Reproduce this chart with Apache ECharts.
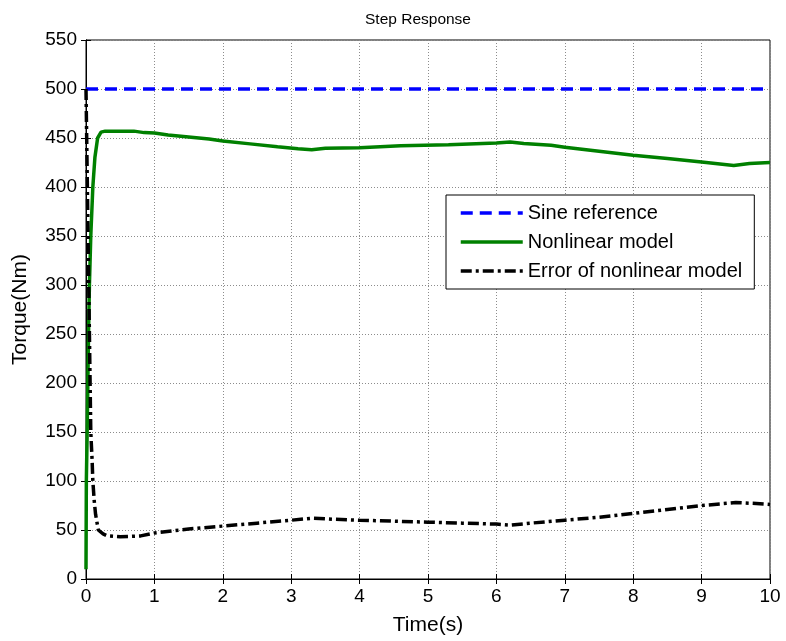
<!DOCTYPE html>
<html>
<head>
<meta charset="utf-8">
<script src="https://cdn.jsdelivr.net/npm/echarts@6/dist/echarts.min.js"></script>
<style>
html,body{margin:0;padding:0;background:#fff;}
#chart{width:786px;height:641px;}
</style>
</head>
<body>
<div id="chart"></div>
<script>
// ---- data ----
var titleText = 'Step Response';
var xName = 'Time(s)';
var yName = 'Torque(Nm)';
var seriesNames = ['Sine reference', 'Nonlinear model', 'Error of nonlinear model'];

var refTime = [0, 10];
var refValues = [500, 500];

var nlTime = [0, 0.005, 0.017, 0.027, 0.037, 0.05, 0.07, 0.1, 0.13, 0.17, 0.22, 0.28, 0.5, 0.7, 0.85, 1, 1.2, 1.5, 1.8, 2, 2.4, 2.8, 3.1, 3.3, 3.5, 4, 4.6, 5.3, 6, 6.2, 6.4, 6.8, 7, 7.5, 8, 8.5, 9, 9.47, 9.7, 10];
var nlValues = [10, 100, 150, 200, 250, 300, 350, 400, 430, 450, 456, 457, 457, 457, 455.5, 455, 453, 451, 449, 447, 444, 441, 439, 438, 439.5, 440, 442, 443, 445, 446, 444.5, 442.5, 440.5, 436.5, 432.5, 429, 425.5, 422, 424, 425];

var errTime = [0, 0.01, 0.02, 0.03, 0.04, 0.05, 0.06, 0.07, 0.09, 0.1, 0.12, 0.14, 0.18, 0.25, 0.31, 0.5, 0.8, 1, 1.5, 2, 2.5, 3, 3.3, 3.6, 4, 4.5, 5, 5.5, 6, 6.2, 6.5, 7, 7.5, 8, 8.5, 9, 9.5, 9.8, 10];
var errValues = [500, 450, 400, 350, 300, 250, 200, 150, 120, 100, 80, 66, 50, 46, 44, 43, 44, 47, 51, 54, 57, 60, 62, 61, 60, 59, 58, 57, 56, 55, 57, 60, 63, 67, 71, 75, 78, 77, 76];

var xMin = 0, xMax = 10, xStep = 1;
var yMin = 0, yMax = 550, yStep = 50;

function pairs(t, v) { return t.map(function (x, i) { return [x, v[i]]; }); }

var FONT = 'Liberation Sans, Arial, sans-serif';
var chart = echarts.init(document.getElementById('chart'));

var gridLine = { show: true, lineStyle: { color: '#8c8c8c', type: [1, 2], width: 1 } };

chart.setOption({
  animation: false,
  backgroundColor: '#fff',
  title: {
    text: titleText, left: 360, top: 7,
    textStyle: { fontFamily: FONT, fontSize: 15.5, fontWeight: 'normal', color: '#000' }
  },
  grid: { left: 86, right: 16, top: 40, bottom: 59, show: true, borderColor: '#000', borderWidth: 1, backgroundColor: '#fff' },
  legend: {
    orient: 'vertical', left: 446, top: 195,
    padding: [8, 12, 8, 13],
    itemWidth: 62, itemHeight: 14, itemGap: 9, itemTextGap: 8,
    backgroundColor: '#fff', borderColor: '#000', borderWidth: 1, borderRadius: 0,
    itemStyle: { color: 'rgba(0,0,0,0)', borderWidth: 0, opacity: 0 },
    lineStyle: { width: 3.5 },
    textStyle: { fontFamily: FONT, fontSize: 20, color: '#000', lineHeight: 20 },
    data: seriesNames
  },
  xAxis: [{
    type: 'value', min: xMin, max: xMax, interval: xStep, position: 'bottom',
    name: xName, nameLocation: 'middle', nameGap: 36,
    nameTextStyle: { fontFamily: FONT, fontSize: 21, color: '#000' },
    axisLine: { show: true, lineStyle: { color: '#000', width: 1 } },
    axisTick: { show: true, inside: true, length: 5, lineStyle: { color: '#000' } },
    axisLabel: { fontFamily: FONT, fontSize: 19, color: '#000', margin: 8 },
    splitLine: gridLine
  }, {
    type: 'value', min: xMin, max: xMax, interval: xStep, position: 'top',
    axisLine: { show: true, lineStyle: { color: '#000', width: 1 } },
    axisTick: { show: true, inside: true, length: 5, lineStyle: { color: '#000' } },
    axisLabel: { show: false }, splitLine: { show: false }
  }],
  yAxis: [{
    type: 'value', min: yMin, max: yMax, interval: yStep, position: 'left',
    name: yName, nameLocation: 'middle', nameGap: 55,
    nameTextStyle: { fontFamily: FONT, fontSize: 21, color: '#000' },
    axisLine: { show: true, lineStyle: { color: '#000', width: 1 } },
    axisTick: { show: true, inside: true, length: 5, lineStyle: { color: '#000' } },
    axisLabel: { fontFamily: FONT, fontSize: 19, color: '#000', margin: 9 },
    splitLine: gridLine
  }, {
    type: 'value', min: yMin, max: yMax, interval: yStep, position: 'right',
    axisLine: { show: true, lineStyle: { color: '#000', width: 1 } },
    axisTick: { show: true, inside: true, length: 5, lineStyle: { color: '#000' } },
    axisLabel: { show: false }, splitLine: { show: false }
  }],
  series: [{
    name: seriesNames[0], type: 'line', data: pairs(refTime, refValues),
    symbol: 'none', color: '#0000ff',
    lineStyle: { color: '#0000ff', width: 3.5, type: [12, 7] }, z: 3
  }, {
    name: seriesNames[1], type: 'line', data: pairs(nlTime, nlValues),
    symbol: 'none', color: '#008000',
    lineStyle: { color: '#008000', width: 3.5, type: 'solid' }, z: 4
  }, {
    name: seriesNames[2], type: 'line', data: pairs(errTime, errValues),
    symbol: 'none', color: '#000000',
    lineStyle: { color: '#000000', width: 3.5, type: [11, 4, 3, 4] }, z: 5
  }]
});
</script>
</body>
</html>
